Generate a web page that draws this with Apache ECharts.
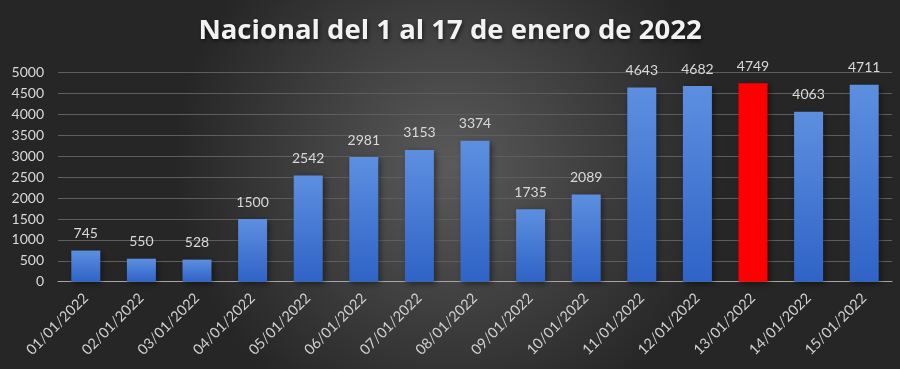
<!DOCTYPE html>
<html><head><meta charset="utf-8">
<script src="https://cdn.jsdelivr.net/npm/echarts@6/dist/echarts.min.js"></script>
<style>html,body{margin:0;padding:0;background:#333;}#c{width:900px;height:369px;}</style>
</head><body><div id="c"></div>
<script>
const categories = ['01/01/2022','02/01/2022','03/01/2022','04/01/2022','05/01/2022','06/01/2022','07/01/2022','08/01/2022','09/01/2022','10/01/2022','11/01/2022','12/01/2022','13/01/2022','14/01/2022','15/01/2022'];
const values = [745,550,528,1500,2542,2981,3153,3374,1735,2089,4643,4682,4749,4063,4711];
const highlightIndex = 12;
const titleText = 'Nacional del 1 al 17 de enero de 2022';

const blue = {type:'linear',x:0,y:0,x2:0,y2:1,colorStops:[{offset:0,color:'#5d8fe0'},{offset:1,color:'#2f63c6'}]};
const chart = echarts.init(document.getElementById('c'));
chart.setOption({
  backgroundColor:{type:'radial',x:0.5,y:0.45,r:0.75,colorStops:[{offset:0,color:'#5a5a5a'},{offset:1,color:'#262626'}]},
  title:{text:titleText,left:'center',top:12,textStyle:{color:'#f2f2f2',fontFamily:'Open Sans',fontWeight:'bold',fontSize:27.5,textShadowColor:'rgba(0,0,0,0.6)',textShadowBlur:4,textShadowOffsetX:1,textShadowOffsetY:2}},
  grid:{left:58,right:8,top:72.7,bottom:87.3},
  xAxis:{type:'category',data:categories,
    axisLine:{lineStyle:{color:'#a6a6a6',width:1}},axisTick:{show:false},
    axisLabel:{rotate:45,color:'#d0d0d0',fontFamily:'Lato',fontSize:14.5,margin:14,interval:0}},
  yAxis:{type:'value',min:0,max:5000,interval:500,
    axisLine:{show:false},axisTick:{show:false},
    splitLine:{lineStyle:{color:'#5e5e5e',width:1}},
    axisLabel:{color:'#d9d9d9',fontFamily:'Lato',fontSize:14,margin:14,formatter:v=>String(v)}},
  series:[{type:'bar',barWidth:29,
    data:values.map((v,i)=>({value:v,itemStyle:{color:i===highlightIndex?'#ff0000':blue}})),
    itemStyle:{shadowColor:'rgba(0,0,0,0.45)',shadowBlur:6,shadowOffsetX:2,shadowOffsetY:2},
    label:{show:true,position:'top',distance:10,color:'#d9d9d9',fontFamily:'Lato',fontSize:14}
  }]
});
</script></body></html>
